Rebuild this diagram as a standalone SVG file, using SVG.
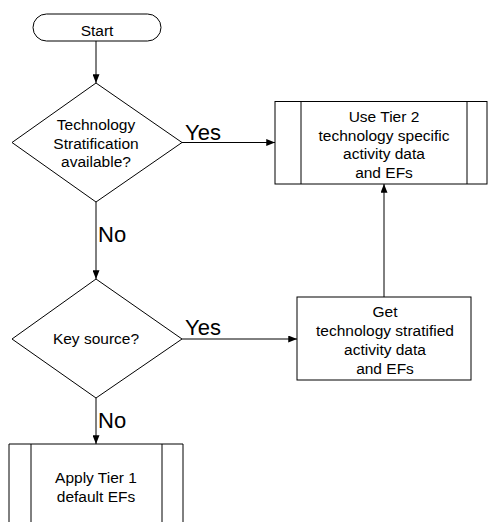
<svg xmlns="http://www.w3.org/2000/svg" width="488" height="522" viewBox="0 0 488 522">
<style>
.s{fill:#fff;stroke:#000;stroke-width:1}
.l{fill:none;stroke:#000;stroke-width:1}
.t{font-family:"Liberation Sans",Arial,sans-serif;font-size:15.5px;fill:#000;text-anchor:middle}
.b{font-family:"Liberation Sans",Arial,sans-serif;font-size:22px;fill:#000}
</style>
<defs>
<marker id="a" viewBox="0 0 10 8" refX="10" refY="4" markerWidth="9" markerHeight="7" markerUnits="userSpaceOnUse" orient="auto">
<path d="M0,0 L10,4 L0,8 z" fill="#000"/>
</marker>
</defs>
<rect width="488" height="522" fill="#fff"/>
<g id="connectors">
<line class="l" x1="96" y1="41" x2="96" y2="83" marker-end="url(#a)"/>
<line class="l" x1="182" y1="142.5" x2="275" y2="142.5" marker-end="url(#a)"/>
<line class="l" x1="96" y1="202" x2="96" y2="279" marker-end="url(#a)"/>
<line class="l" x1="182" y1="339" x2="297" y2="339" marker-end="url(#a)"/>
<line class="l" x1="384" y1="297" x2="384" y2="184" marker-end="url(#a)"/>
<line class="l" x1="96" y1="398" x2="96" y2="444" marker-end="url(#a)"/>
<text class="b" x="185" y="140">Yes</text>
<text class="b" x="98" y="242">No</text>
<text class="b" x="185" y="335">Yes</text>
<text class="b" x="98" y="428">No</text>
</g>
<g id="start">
<rect class="s" x="33" y="14" width="128" height="27" rx="13.5"/>
<text class="t" x="97" y="36">Start</text>
</g>
<g id="decision1">
<polygon class="s" points="96,83 182,142.5 96,202 12,142.5"/>
<text class="t" x="96" y="130">Technology</text>
<text class="t" x="96" y="148.5">Stratification</text>
<text class="t" x="96" y="167">available?</text>
</g>
<g id="tier2">
<rect class="s" x="275" y="101.5" width="212" height="82.5"/>
<line class="l" x1="301" y1="101.5" x2="301" y2="184"/>
<line class="l" x1="467" y1="101.5" x2="467" y2="184"/>
<text class="t" x="384" y="122">Use Tier 2</text>
<text class="t" x="384" y="140.5">technology specific</text>
<text class="t" x="384" y="159">activity data</text>
<text class="t" x="384" y="177.5">and EFs</text>
</g>
<g id="decision2">
<polygon class="s" points="96,279 182,339 96,398 12,339"/>
<text class="t" x="96" y="343.5">Key source?</text>
</g>
<g id="getdata">
<rect class="s" x="297" y="297" width="174" height="83"/>
<text class="t" x="385" y="317.3">Get</text>
<text class="t" x="385" y="336">technology stratified</text>
<text class="t" x="385" y="355">activity data</text>
<text class="t" x="385" y="374.3">and EFs</text>
</g>
<g id="tier1">
<path class="s" d="M9,530 V444 H183 V530"/>
<line class="l" x1="31" y1="444" x2="31" y2="530"/>
<line class="l" x1="162" y1="444" x2="162" y2="530"/>
<text class="t" x="96" y="483.3">Apply Tier 1</text>
<text class="t" x="96" y="501.7">default EFs</text>
</g>
</svg>
